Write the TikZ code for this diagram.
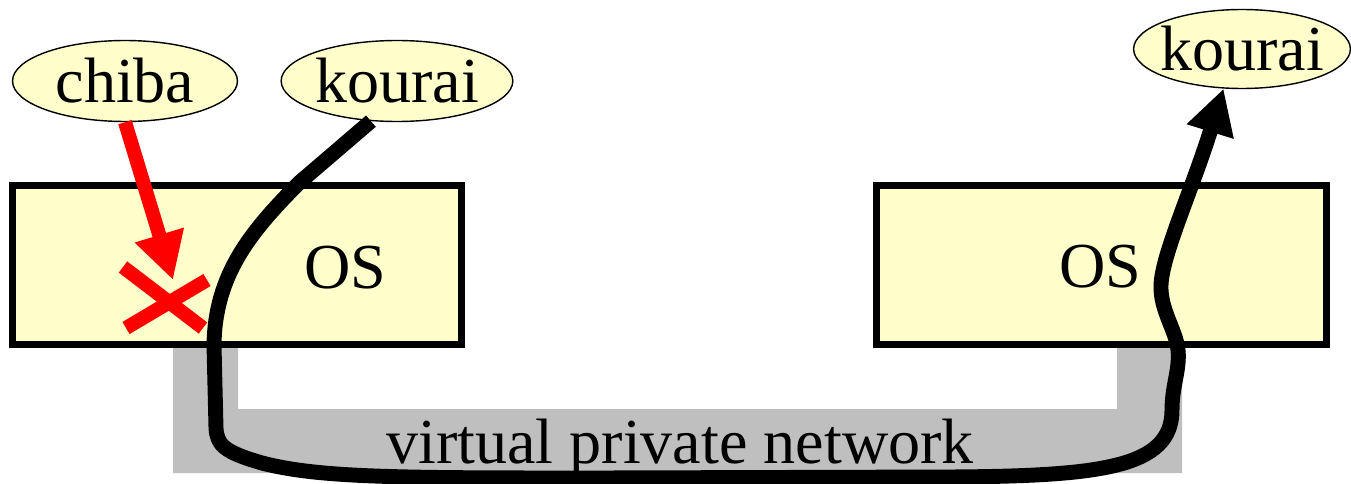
\documentclass[tikz,border=0pt]{standalone}
\usepackage{fontspec}
\setmainfont{Liberation Serif}
\usetikzlibrary{shapes.geometric,arrows.meta}
\definecolor{paleyellow}{HTML}{FFFFCC}
\definecolor{vpngray}{HTML}{BFBFBF}
\definecolor{alarmred}{HTML}{FF0000}

\begin{document}
\begin{tikzpicture}[x=0.02cm,y=-0.02cm,
  bigtext/.style={font=\fontsize{36.5}{42}\selectfont},
  hostbox/.style={draw,line width=4pt,fill=paleyellow,
    minimum width=9cm,minimum height=3.18cm,inner sep=0pt},
  user/.style={ellipse,draw,line width=0.8pt,fill=paleyellow,
    inner sep=0pt,minimum width=4.5cm,minimum height=1.62cm,bigtext},
  tightuser/.style={user,inner sep=-3pt,minimum width=4.3cm,minimum height=1.58cm},
  txt/.style={inner sep=0pt,bigtext},
  route/.style={line width=8.5pt,line join=round,
    -{Triangle[length=0.9cm,width=0.92cm]}},
  denied/.style={line width=8pt,draw=alarmred,
    -{Triangle[length=0.94cm,width=0.96cm]}},
  cross/.style={line width=8pt,draw=alarmred}]

\useasboundingbox (0,0) rectangle (1351,483);

% virtual private network channel joining the two hosts
\fill[vpngray] (173,345) -- (238,345) -- (238,409) -- (1117,409)
  -- (1117,345) -- (1182,345) -- (1182,473) -- (173,473) -- cycle;
\node[txt,anchor=base] (vpn) at (680,463) {virtual private network};

% the two hosts
\node[hostbox] (hostL) at (237,265) {};
\node[hostbox] (hostR) at (1101.5,265) {};
\node[txt,anchor=base] (osL) at (345,288) {OS};
\node[txt,anchor=base] (osR) at (1100,287) {OS};

% users
\node[user] (chiba) at (125,81) {chiba};
\node[user] (kouraiL) at (397,81) {kourai};
\node[tightuser] (kouraiR) at (1242,49) {kourai};

% chiba's access is blocked by the OS
\coordinate (block) at (173,280);
\draw[denied] (chiba.south) -- (block);
\draw[cross] (123,267) -- (203,328);
\draw[cross] (126,328) -- (207,280);

% kourai travels through the VPN to the other host
\draw[route] (kouraiL.237) -- (300,182)
  .. controls (250,232) and (215,275) .. (214,345)
  -- (216,428)
  .. controls (217,445) and (224,452) .. (262,463)
  .. controls (320,478) and (400,478) .. (600,478)
  -- (950,477)
  .. controls (1100,476) and (1172,468) .. (1172,410)
  .. controls (1172,385) and (1180,370) .. (1178,350)
  .. controls (1176,330) and (1160,310) .. (1161,285)
  .. controls (1162,255) and (1192,190) .. (kouraiR.245);
\end{tikzpicture}
\end{document}
